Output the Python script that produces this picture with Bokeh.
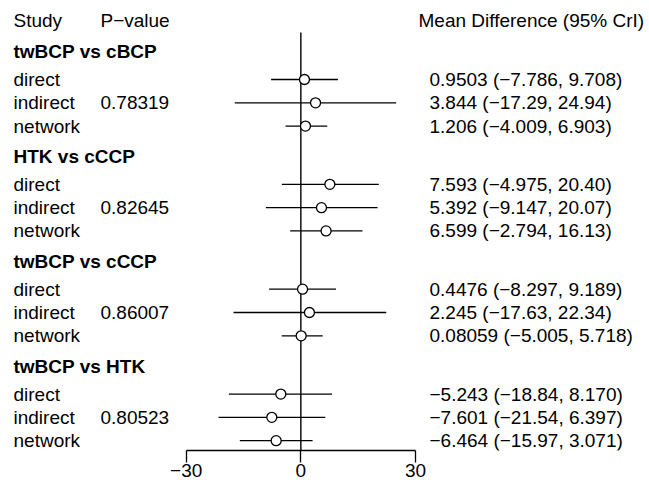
from bokeh.plotting import figure
from bokeh.models import Range1d, LinearAxis, FixedTicker, ColumnDataSource
from bokeh.core.properties import value
from bokeh.embed import file_html
from bokeh.resources import INLINE

# ---------------- data ----------------
groups = ["twBCP vs cBCP", "HTK vs cCCP", "twBCP vs cCCP", "twBCP vs HTK"]
p_values = ["0.78319", "0.82645", "0.86007", "0.80523"]
studies = ["direct", "indirect", "network"]
mean = [[0.9503, 3.844, 1.206],
        [7.593, 5.392, 6.599],
        [0.4476, 2.245, 0.08059],
        [-5.243, -7.601, -6.464]]
lower = [[-7.786, -17.29, -4.009],
         [-4.975, -9.147, -2.794],
         [-8.297, -17.63, -5.005],
         [-18.84, -21.54, -15.97]]
upper = [[9.708, 24.94, 6.903],
         [20.40, 20.07, 16.13],
         [9.189, 22.34, 5.718],
         [8.170, 6.397, 3.071]]
x_ticks = [-30, 0, 30]
col_headers = ["Study", "P\u2212value", "Mean Difference (95% CrI)"]

# ---------------- layout helpers ----------------
FONT = "Liberation Sans"
FS = "19px"
ROW = 23.3          # px per row
TOP_PX = 79.0       # pixel y of the first study row
FRAME_H = 450
W, H = 649, 483

def fmt(v):
    s = f"{v:#.4g}"
    return s.replace("-", "\u2212")

# y positions in row units (0 = first "direct" row)
hdr_y, row_y = [], []
for g in range(len(groups)):
    base = g * 4.5
    hdr_y.append(base - 1.2)
    row_y.append([base + i for i in range(len(studies))])

y_top = -TOP_PX / ROW
y_bot = (FRAME_H - TOP_PX) / ROW

# x mapping: -30 at px 185.7, 30 at px 415
ppu = (415.0 - 185.7) / 60.0
x_start = -30 - 185.7 / ppu
x_end = 30 + (W - 415.0) / ppu

p = figure(width=W, height=H, output_backend="svg", toolbar_location=None,
           x_range=Range1d(x_start, x_end), y_range=Range1d(y_bot, y_top),
           x_axis_type=None, y_axis_type=None,
           min_border_left=0, min_border_right=0, min_border_top=0,
           min_border_bottom=H - FRAME_H)
p.extra_x_ranges = {"px": Range1d(0, W)}
p.outline_line_color = None
p.background_fill_color = "white"
p.border_fill_color = "white"
p.xgrid.visible = False
p.ygrid.visible = False

# zero reference line
p.segment(x0=[0], y0=[(32 - TOP_PX) / ROW], x1=[0], y1=[y_bot + 5],
          line_color="black", line_width=1.4)

# CIs and points
xs_m, ys, x_lo, x_hi = [], [], [], []
for g in range(len(groups)):
    for i in range(len(studies)):
        xs_m.append(mean[g][i]); ys.append(row_y[g][i])
        x_lo.append(lower[g][i]); x_hi.append(upper[g][i])
src = ColumnDataSource(dict(m=xs_m, y=ys, lo=x_lo, hi=x_hi))
p.segment(x0="lo", y0="y", x1="hi", y1="y", source=src, line_color="black", line_width=1.3)
p.scatter(x="m", y="y", source=src, marker="circle", size=10,
          fill_color="white", line_color="black", line_width=1.3)

# texts
def txt(x, y, t, bold=False):
    p.text(x=x, y=y, text=t, x_range_name="px", text_font=value(FONT),
           text_font_size=FS, text_baseline="middle", text_align="left",
           text_color="black", text_font_style="bold" if bold else "normal")

head_y = (20 - TOP_PX) / ROW
txt([13, 100, 418], [head_y] * 3, col_headers)
txt([13] * len(groups), hdr_y, groups, bold=True)

lab_y, lab_t = [], []
pv_y, ci_y, ci_t = [], [], []
for g in range(len(groups)):
    for i in range(len(studies)):
        lab_y.append(row_y[g][i]); lab_t.append(studies[i])
        ci_y.append(row_y[g][i])
        ci_t.append(f"{fmt(mean[g][i])} ({fmt(lower[g][i])}, {fmt(upper[g][i])})")
    pv_y.append(row_y[g][1])
txt([13] * len(lab_t), lab_y, lab_t)
txt([100] * len(p_values), pv_y, p_values)
txt([429] * len(ci_t), ci_y, ci_t)

# x axis
ax = LinearAxis(ticker=FixedTicker(ticks=x_ticks), bounds=(-30, 30))
ax.major_label_overrides = {t: (str(t).replace("-", "\u2212")) for t in x_ticks}
ax.major_label_text_font = FONT
ax.major_label_text_font_size = FS
ax.major_label_text_color = "black"
ax.axis_line_color = "black"
ax.axis_line_width = 1.3
ax.major_tick_line_color = "black"
ax.major_tick_line_width = 1.3
ax.major_tick_out = 12
ax.major_tick_in = 0
ax.minor_tick_line_color = None
ax.major_label_standoff = 1
p.add_layout(ax, "below")

open("out.html", "w").write(file_html(p, INLINE))
